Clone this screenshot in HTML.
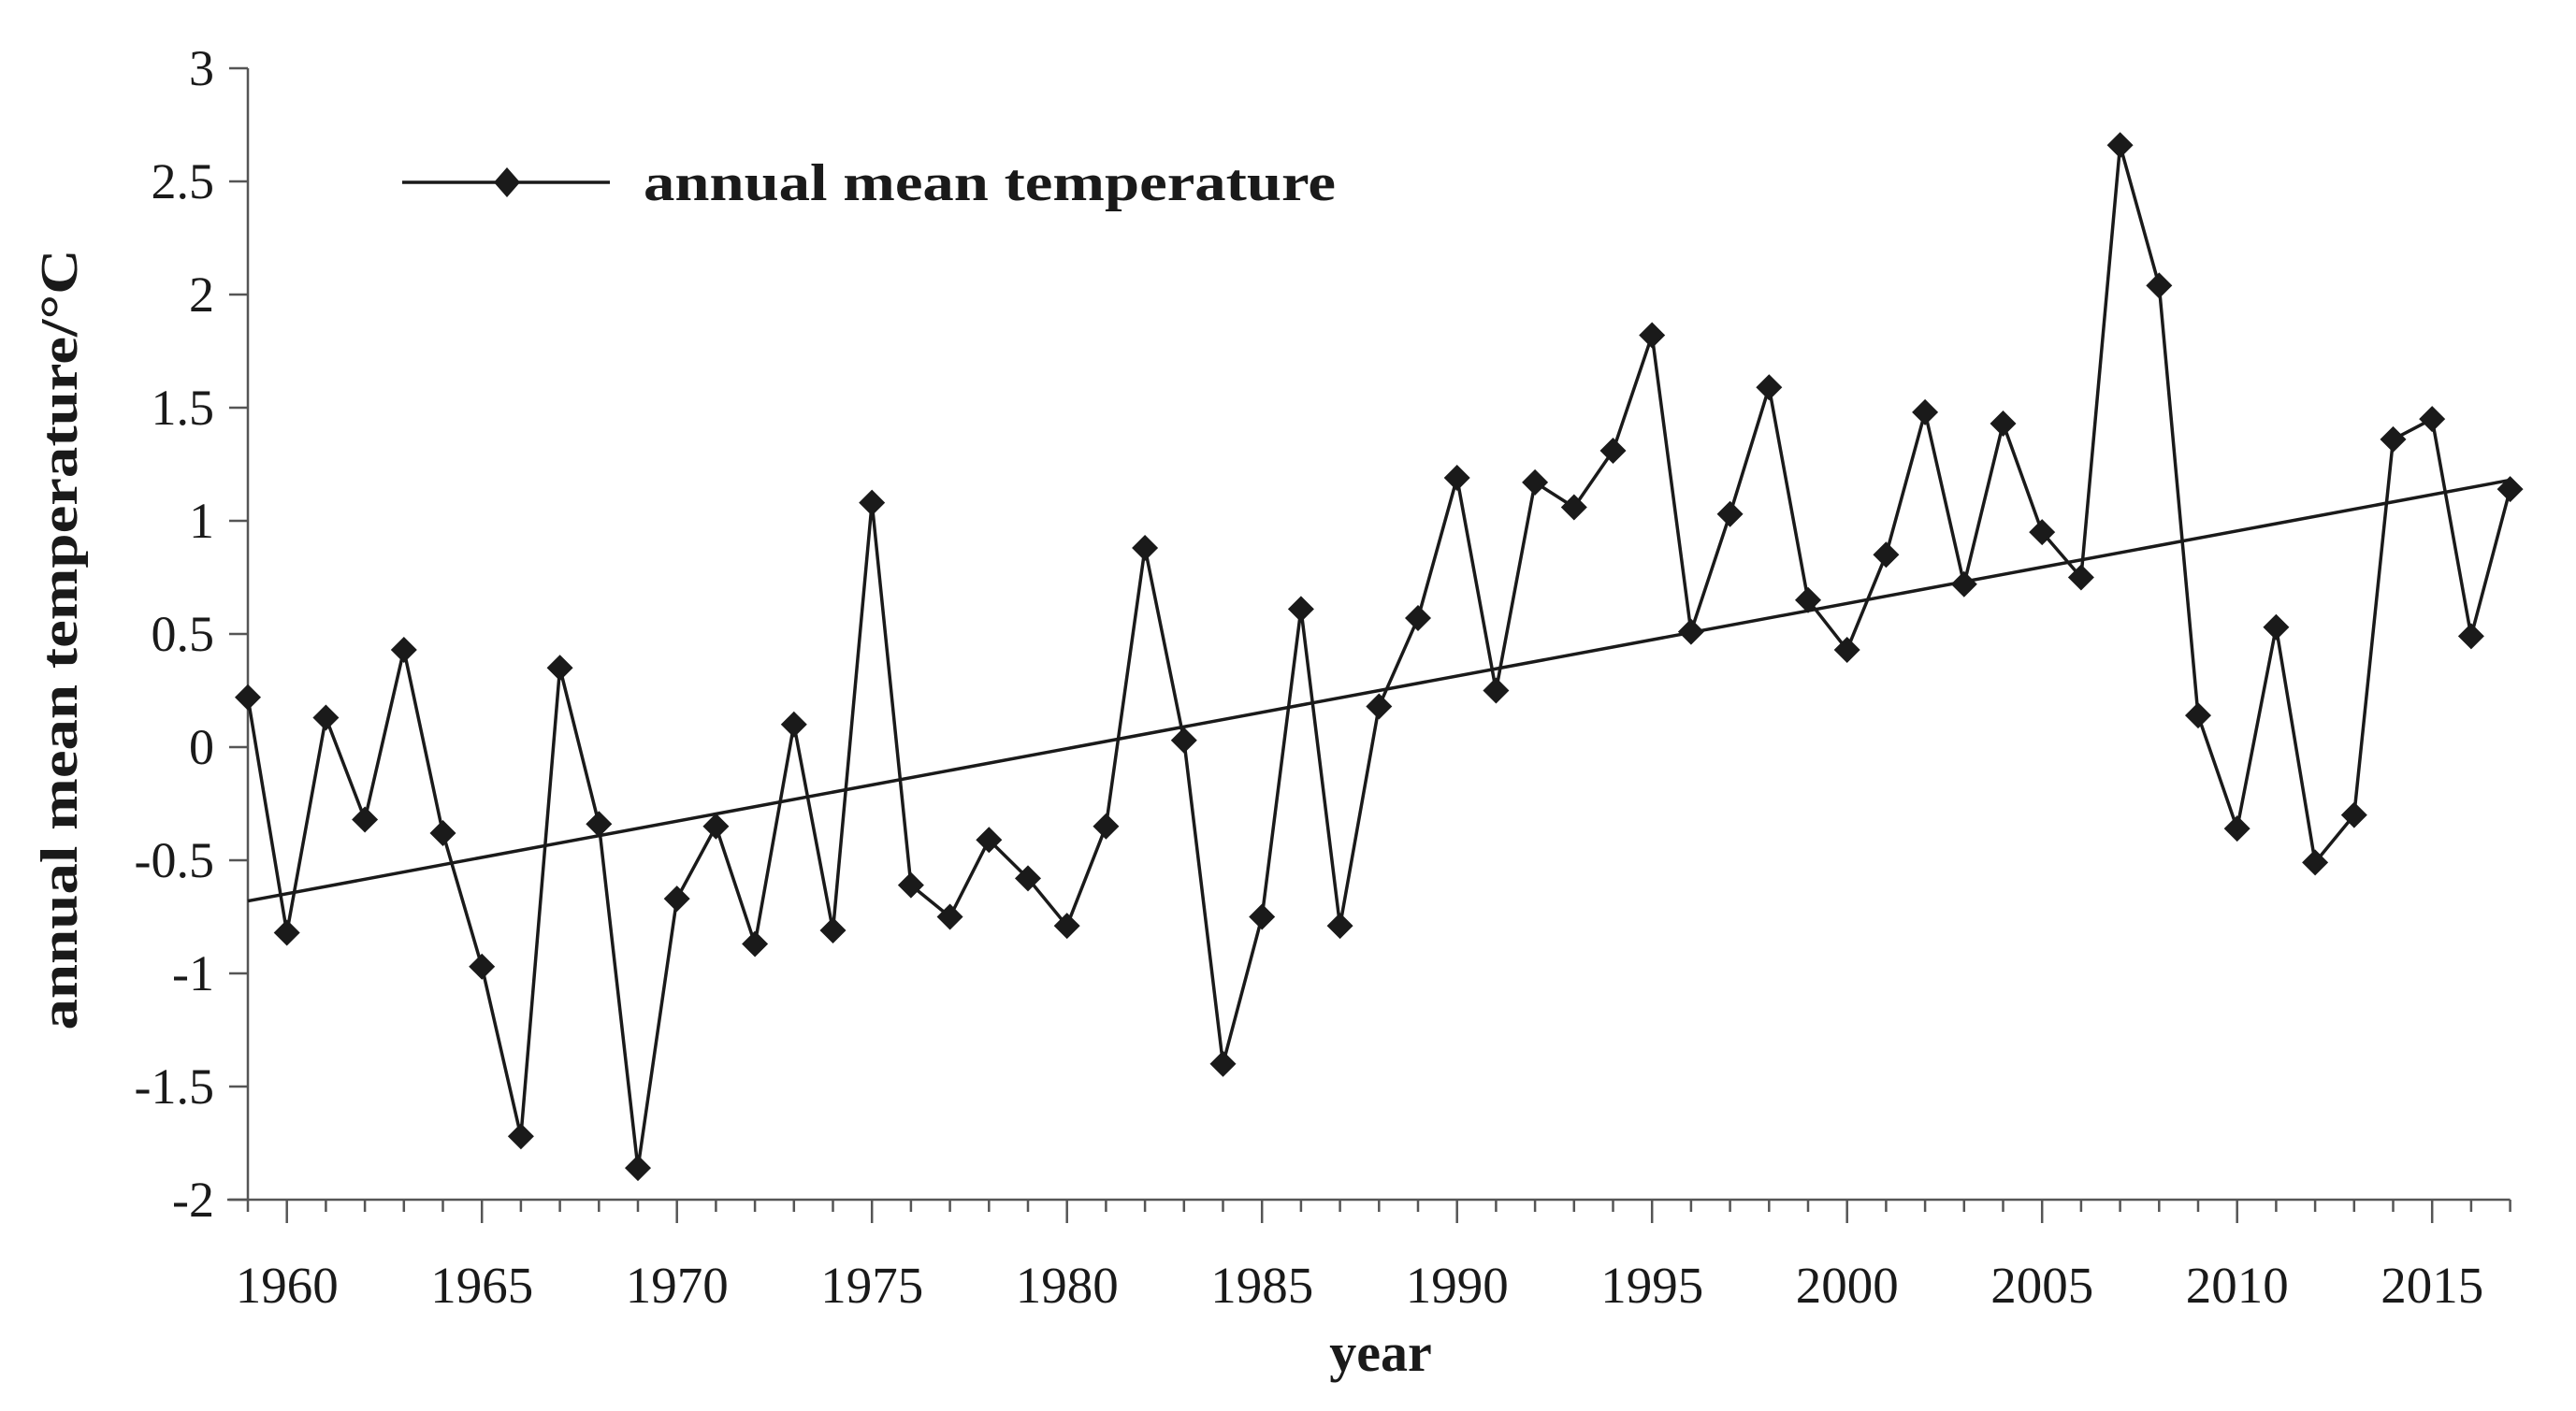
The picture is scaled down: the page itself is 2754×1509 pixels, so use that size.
<!DOCTYPE html>
<html><head><meta charset="utf-8"><style>
html,body{margin:0;padding:0;background:#fff;}
svg{display:block;}
text{font-family:"Liberation Serif",serif;fill:#1a1a1a;}
</style></head><body>
<svg id="chart" width="2754" height="1509" viewBox="0 0 2754 1509" xmlns="http://www.w3.org/2000/svg">
<g id="axes"></g>
<g id="series"></g>
<g>
<line x1="430" y1="195" x2="652" y2="195" stroke="#1a1a1a" stroke-width="3.5"/>
<path d="M542 179 L556 195 L542 211 L528 195 Z" fill="#1a1a1a"/>
<text x="688" y="214" font-size="56" font-weight="bold" textLength="740" lengthAdjust="spacingAndGlyphs">annual mean temperature</text>
</g>
<text x="1476" y="1466" font-size="58" font-weight="bold" text-anchor="middle">year</text>
<text transform="translate(82,684) rotate(-90)" font-size="56" font-weight="bold" text-anchor="middle" textLength="835" lengthAdjust="spacingAndGlyphs">annual mean temperature/°C</text>
</svg>
<script>
const years = [1959,1960,1961,1962,1963,1964,1965,1966,1967,1968,1969,1970,1971,1972,1973,1974,1975,1976,1977,1978,1979,1980,1981,1982,1983,1984,1985,1986,1987,1988,1989,1990,1991,1992,1993,1994,1995,1996,1997,1998,1999,2000,2001,2002,2003,2004,2005,2006,2007,2008,2009,2010,2011,2012,2013,2014,2015,2016,2017];
const temps = [0.22,-0.82,0.13,-0.32,0.43,-0.38,-0.97,-1.72,0.35,-0.34,-1.86,-0.67,-0.35,-0.87,0.10,-0.81,1.08,-0.61,-0.75,-0.41,-0.58,-0.79,-0.35,0.88,0.03,-1.40,-0.75,0.61,-0.79,0.18,0.57,1.19,0.25,1.17,1.06,1.31,1.82,0.51,1.03,1.59,0.65,0.43,0.85,1.48,0.72,1.43,0.95,0.75,2.66,2.04,0.14,-0.36,0.53,-0.51,-0.30,1.36,1.45,0.49,1.14];
const trendStart = -0.68;
const trendEnd = 1.18;
const yTicks = [3,2.5,2,1.5,1,0.5,0,-0.5,-1,-1.5,-2];
const xTickLabels = [1960,1965,1970,1975,1980,1985,1990,1995,2000,2005,2010,2015];

const NS = "http://www.w3.org/2000/svg";
const X0 = 265, PX_PER_YEAR = 41.7, XMIN = 1959, XMAX = 2017;
const Y0 = 1283, PX_PER_UNIT = 242, YMIN = -2, YMAX = 3;
function xs(v){ return X0 + (v - XMIN) * PX_PER_YEAR; }
function ys(v){ return Y0 - (v - YMIN) * PX_PER_UNIT; }
function mk(tag, attrs){ const e = document.createElementNS(NS, tag); for (const k in attrs) e.setAttribute(k, attrs[k]); return e; }

const axes = document.getElementById('axes');
const ink = '#555';
let yAxis = mk('line', {x1:xs(XMIN), y1:ys(YMAX), x2:xs(XMIN), y2:ys(YMIN), stroke:ink, 'stroke-width':2.5});


axes.appendChild(yAxis);
let xAxis = mk('line', {x1:xs(XMIN)-22, y1:ys(YMIN), x2:xs(XMAX), y2:ys(YMIN), stroke:ink, 'stroke-width':2.5});


axes.appendChild(xAxis);

yTicks.forEach(v => {
  const t = mk('line', {x1:xs(XMIN)-20, y1:ys(v), x2:xs(XMIN), y2:ys(v), stroke:ink, 'stroke-width':2.5});
  
  
  axes.appendChild(t);
  const l = mk('text', {x:xs(XMIN)-36, y:ys(v)+18, 'font-size':54, 'text-anchor':'end'});
  l.textContent = String(v);
  
  
  axes.appendChild(l);
});
for (let yr = XMIN; yr <= XMAX; yr++) {
  const major = yr % 5 === 0;
  const t = mk('line', {x1:xs(yr), y1:ys(YMIN), x2:xs(yr), y2:ys(YMIN)+(major?25:13), stroke:ink, 'stroke-width':2.5});
  
  
  axes.appendChild(t);
}
xTickLabels.forEach(yr => {
  const l = mk('text', {x:xs(yr), y:1393, 'font-size':55, 'text-anchor':'middle'});
  l.textContent = String(yr);
  
  
  axes.appendChild(l);
});

const series = document.getElementById('series');
const trend = mk('line', {x1:xs(years[0]), y1:ys(trendStart), x2:xs(years[years.length-1]), y2:ys(trendEnd), stroke:'#1a1a1a', 'stroke-width':3.5});


series.appendChild(trend);
const pts = years.map((y,i) => xs(y).toFixed(1) + ',' + ys(temps[i]).toFixed(1)).join(' ');
const line = mk('polyline', {points:pts, fill:'none', stroke:'#1a1a1a', 'stroke-width':3.5, 'stroke-linejoin':'round'});


series.appendChild(line);
years.forEach((y,i) => {
  const cx = xs(y), cy = ys(temps[i]), r = 14;
  const d = mk('path', {d:`M${cx} ${cy-r} L${cx+r} ${cy} L${cx} ${cy+r} L${cx-r} ${cy} Z`, fill:'#1a1a1a'});
  
  
  series.appendChild(d);
});
</script>
</body></html>
